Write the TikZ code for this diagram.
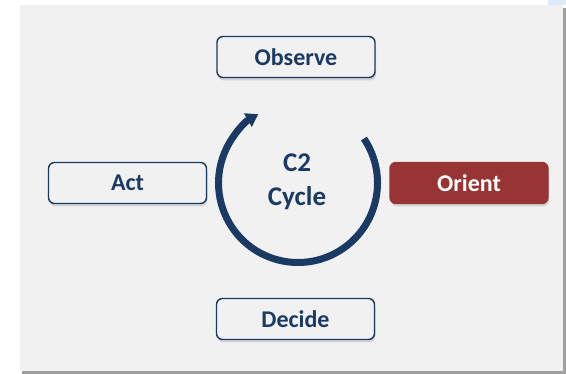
\documentclass[tikz,border=0pt]{standalone}
\usepackage{fontspec}
\setmainfont{Carlito}
\usetikzlibrary{shadows,arrows.meta}
\definecolor{navy}{HTML}{1B3A63}
\definecolor{panel}{HTML}{F1F1F1}
\definecolor{redbox}{HTML}{983534}
\definecolor{edgegray}{HTML}{A0A0A0}
\definecolor{tipblue}{HTML}{DDEBF7}
\tikzset{
  stage/.style={draw=navy, line width=1.4pt, rounded corners=6pt, fill=panel,
    minimum width=158pt, minimum height=41pt, text=navy, font=\bfseries\fontsize{24}{28}\selectfont,
    drop shadow={shadow xshift=1pt, shadow yshift=-3pt, opacity=0.25}},
  hot/.style={stage, draw=redbox, fill=redbox, text=white},
}
\begin{document}
\begin{tikzpicture}[x=1pt,y=-1pt]
\useasboundingbox (0,0) rectangle (566,374);
\fill[white] (0,0) rectangle (566,374);
\fill[tipblue] (548,0) rectangle (566,5);
\fill[edgegray] (22,8) rectangle (566,374);
\fill[panel] (20,5) rectangle (563,371);
\node[stage] (obs) at (296,57) {Observe};
\node[stage] (act) at (127.5,183) {Act};
\node[hot] (ori) at (469,183) {Orient};
\node[stage] (dec) at (295.5,319) {Decide};
\node[text=navy, font=\bfseries\fontsize{27}{34}\selectfont, align=center] (c2) at (297,182) {C2\\Cycle};
\draw[navy, line width=7pt, -{Triangle[length=12pt,width=15pt]}]
  ([shift={(34:79.5pt)}]298,183) arc[start angle=34, end angle=-240, radius=79.5pt];
\end{tikzpicture}
\end{document}
